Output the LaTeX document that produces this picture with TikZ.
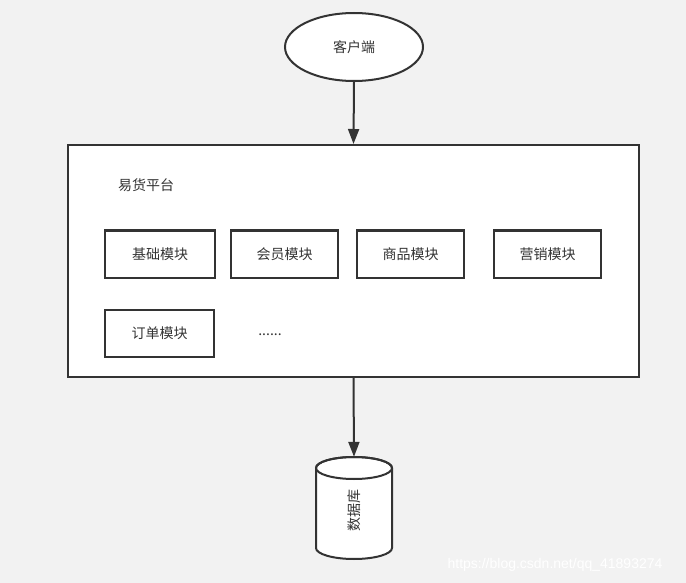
\documentclass[tikz,border=0pt]{standalone}
\usepackage{fontspec}
\setmainfont{Noto Sans CJK SC}
\usetikzlibrary{shapes.geometric,arrows.meta}
\definecolor{bg}{HTML}{F2F2F2}
\definecolor{ln}{HTML}{333333}
\begin{document}
\begin{tikzpicture}[x=1pt,y=-1pt,
  every node/.style={font=\fontsize{14}{16}\selectfont, text=ln},
  modbox/.style={draw=ln, line width=2pt, fill=white, minimum width=108pt, minimum height=47pt, inner sep=0pt},
  conn/.style={draw=ln, line width=2pt, -{Triangle[width=11pt,length=15pt]}}]
\fill[bg] (0,0) rectangle (686,583);
\useasboundingbox (0,0) rectangle (686,583);
% client
\node[ellipse, draw=ln, line width=2pt, fill=white, minimum width=138pt, minimum height=68pt, inner sep=0pt] (client) at (354,47) {客户端};
% platform
\node[draw=ln, line width=2pt, fill=white, minimum width=571pt, minimum height=232pt, inner sep=0pt] (platform) at (353.5,261) {};
\node (ptitle) at (146,185) {易货平台};
\node[modbox, minimum width=110pt] (m1) at (160,254) {基础模块};
\node[modbox, minimum width=107pt] (m2) at (284.5,254) {会员模块};
\node[modbox, minimum width=107pt] (m3) at (410.5,254) {商品模块};
\node[modbox, minimum width=107pt] (m4) at (547.5,254) {营销模块};
\node[modbox, minimum width=109pt] (m5) at (159.5,333) {订单模块};
\node (dots) at (270,335) {......};
% database
\node[minimum width=76pt, minimum height=102pt, inner sep=0pt] (db) at (354,508) {};
\draw[ln, line width=2pt, fill=white]
  (316,468) -- (316,548) arc[start angle=180, end angle=0, x radius=38, y radius=11]
  -- (392,468) arc[start angle=0, end angle=-180, x radius=38, y radius=11] -- cycle;
\draw[ln, line width=2pt] (354,468) ellipse[x radius=38, y radius=11];
\node[rotate=90] (dbtext) at (354,510) {数据库};
% connectors
\draw[conn] (client.south) -- (platform.north);
\draw[conn] (platform.south) -- (db.north);
% watermark
\node[text=white, font=\fontsize{14}{16}\selectfont\setmainfont{Liberation Sans}] (wm) at (555,565) {https://blog.csdn.net/qq\_41893274};
\end{tikzpicture}
\end{document}
